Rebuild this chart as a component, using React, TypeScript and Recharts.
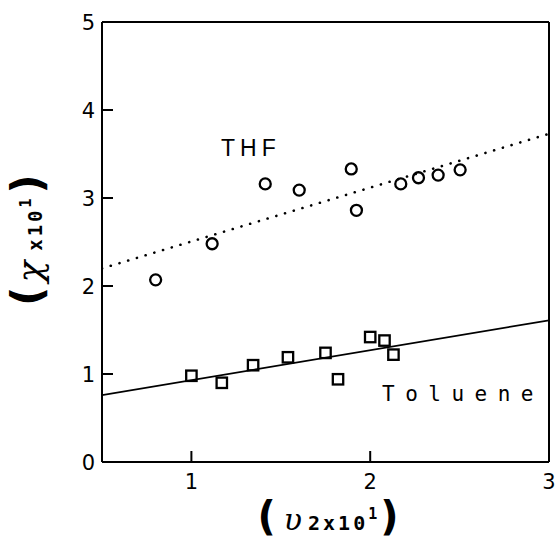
import React from 'react';
import { ComposedChart, XAxis, YAxis, Scatter, Line, ReferenceLine } from 'recharts';

const xTicks = [1, 2, 3];
const yTicks = [0, 1, 2, 3, 4, 5];

const thfX = [0.8, 1.116, 1.413, 1.603, 1.894, 1.923, 2.171, 2.27, 2.38, 2.503];
const thfY = [2.07, 2.48, 3.16, 3.09, 3.33, 2.86, 3.16, 3.23, 3.26, 3.32];

const tolX = [1.0, 1.17, 1.345, 1.54, 1.75, 1.82, 2.0, 2.08, 2.13];
const tolY = [0.98, 0.9, 1.1, 1.19, 1.24, 0.94, 1.42, 1.38, 1.22];

const thfFitX = [0.5, 3];
const thfFitY = [2.2, 3.73];
const tolFitX = [0.5, 3];
const tolFitY = [0.76, 1.61];

const thfData = thfX.map((x, i) => ({ x, y: thfY[i] }));
const tolData = tolX.map((x, i) => ({ x, y: tolY[i] }));
const thfFit = thfFitX.map((x, i) => ({ x, y: thfFitY[i] }));
const tolFit = tolFitX.map((x, i) => ({ x, y: tolFitY[i] }));

const tickFont = '"DejaVu Sans", Verdana, sans-serif';

const YTick = (props: any) => {
  const { x, y, payload } = props;
  return (
    <g>
      <line x1={x} y1={y} x2={x + 11} y2={y} stroke="#000" strokeWidth={2} />
      <text x={x - 7} y={y + 7.8} textAnchor="end" fontSize={21} fontFamily={tickFont} fill="#000">
        {payload.value}
      </text>
    </g>
  );
};

const XTick = (props: any) => {
  const { x, y, payload } = props;
  return (
    <g>
      <line x1={x} y1={y} x2={x} y2={y - 11} stroke="#000" strokeWidth={2} />
      <text x={x} y={y + 26.5} textAnchor="middle" fontSize={21} fontFamily={tickFont} fill="#000">
        {payload.value}
      </text>
    </g>
  );
};

const Circ = (props: any) => (
  <circle cx={props.cx} cy={props.cy} r={5.5} fill="none" stroke="#000" strokeWidth={2.3} />
);
const Sq = (props: any) => (
  <rect x={props.cx - 5.2} y={props.cy - 5.2} width={10.4} height={10.4} fill="none" stroke="#000" strokeWidth={2.3} />
);

const paren = { fontFamily: '"DejaVu Sans", sans-serif', fontWeight: 'bold' as const, fontSize: 40 };

export default function App() {
  return (
    <div style={{ position: 'absolute', left: 0, top: 0, width: 557, height: 542, background: '#fff', overflow: 'hidden' }}>
      <ComposedChart width={557} height={542} margin={{ top: 22, right: 8, left: 0, bottom: 0 }}>
        <XAxis
          type="number"
          dataKey="x"
          domain={[0.5, 3]}
          ticks={xTicks}
          allowDataOverflow
          height={80}
          tickSize={0}
          tickMargin={0}
          tickLine={false}
          axisLine={{ stroke: '#000', strokeWidth: 2 }}
          tick={<XTick />}
        />
        <YAxis
          type="number"
          dataKey="y"
          domain={[0, 5]}
          ticks={yTicks}
          allowDataOverflow
          width={102}
          tickSize={0}
          tickMargin={0}
          tickLine={false}
          axisLine={{ stroke: '#000', strokeWidth: 2 }}
          tick={<YTick />}
        />
        <ReferenceLine y={5} stroke="#000" strokeWidth={2} />
        <ReferenceLine x={3} stroke="#000" strokeWidth={2} />
        <Line
          data={thfFit}
          dataKey="y"
          stroke="#000"
          strokeWidth={2.6}
          strokeDasharray="0.1 9"
          strokeLinecap="round"
          dot={false}
          activeDot={false}
          isAnimationActive={false}
        />
        <Line
          data={tolFit}
          dataKey="y"
          stroke="#000"
          strokeWidth={1.6}
          dot={false}
          activeDot={false}
          isAnimationActive={false}
        />
        <Scatter data={thfData} shape={<Circ />} isAnimationActive={false} />
        <Scatter data={tolData} shape={<Sq />} isAnimationActive={false} />
      </ComposedChart>

      <div
        style={{
          position: 'absolute',
          left: 221,
          top: 135,
          fontFamily: '"Liberation Sans", Arial, sans-serif',
          fontSize: 23,
          letterSpacing: 5,
          lineHeight: '26px',
          color: '#000',
        }}
      >
        THF
      </div>
      <div
        style={{
          position: 'absolute',
          left: 382,
          top: 381,
          fontFamily: '"DejaVu Sans Mono", monospace',
          fontSize: 21,
          letterSpacing: 10.5,
          lineHeight: '26px',
          color: '#000',
        }}
      >
        Toluene
      </div>

      <div
        style={{
          position: 'absolute',
          left: 328,
          top: 520,
          transform: 'translate(-50%, -50%)',
          whiteSpace: 'nowrap',
          color: '#000',
          lineHeight: '44px',
        }}
      >
        <span style={paren}>(</span>
        <span style={{ fontFamily: '"DejaVu Serif", serif', fontStyle: 'italic', fontSize: 30, marginLeft: 8 }}>υ</span>
        <span style={{ fontFamily: '"DejaVu Sans Mono", monospace', fontWeight: 'bold', fontSize: 20, letterSpacing: 3, marginLeft: 6 }}>
          2x10<sup style={{ fontSize: 15, verticalAlign: '0.7em', lineHeight: 0 }}>1</sup>
        </span>
        <span style={paren}>)</span>
      </div>

      <div
        style={{
          position: 'absolute',
          left: 32,
          top: 240,
          transform: 'translate(-50%, -50%) rotate(-90deg)',
          whiteSpace: 'nowrap',
          color: '#000',
          lineHeight: '50px',
        }}
      >
        <span style={{ ...paren, fontSize: 42 }}>(</span>
        <span style={{ fontFamily: '"DejaVu Serif", serif', fontStyle: 'italic', fontSize: 36, marginLeft: 4 }}>χ</span>
        <span style={{ fontFamily: '"DejaVu Sans Mono", monospace', fontWeight: 'bold', fontSize: 19, letterSpacing: 3, marginLeft: 10 }}>
          x10<sup style={{ fontSize: 15, verticalAlign: '0.7em', lineHeight: 0 }}>1</sup>
        </span>
        <span style={{ ...paren, fontSize: 42, marginLeft: 2 }}>)</span>
      </div>
    </div>
  );
}
